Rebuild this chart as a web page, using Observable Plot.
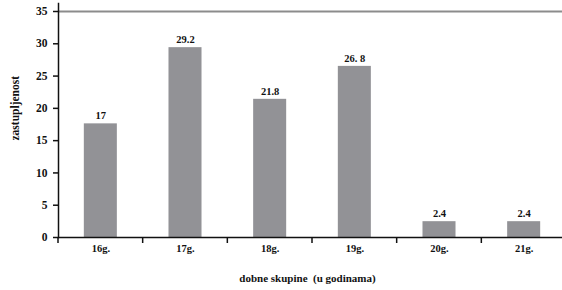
<!DOCTYPE html>
<html>
<head>
<meta charset="utf-8">
<script src="https://cdn.jsdelivr.net/npm/d3@7"></script>
<script src="https://cdn.jsdelivr.net/npm/@observablehq/plot@0.6"></script>
<style>
  html, body { margin: 0; padding: 0; background: #fff; }
  svg text { white-space: pre; }
</style>
</head>
<body>
<div id="chart"></div>
<script>
const categories = ["16g.", "17g.", "18g.", "19g.", "20g.", "21g."];
const values = [17.6, 29.4, 21.4, 26.5, 2.45, 2.45];
const valueLabels = ["17", "29.2", "21.8", "26. 8", "2.4", "2.4"];
const yTicks = [0, 5, 10, 15, 20, 25, 30, 35];
const xTitle = "dobne skupine  (u godinama)";
const yTitle = "zastupljenost";

const data = categories.map((c, i) => ({cat: c, value: values[i], label: valueLabels[i]}));
const FF = "Liberation Serif";

const svg = Plot.plot({
  width: 562,
  height: 290,
  marginTop: 3,
  marginBottom: 53,
  marginLeft: 58,
  marginRight: 0,
  style: {fontFamily: FF, fontWeight: "bold", fontSize: "10px", background: "#fff", overflow: "visible"},
  x: {domain: categories, range: [58, 566], paddingInner: 0.61, paddingOuter: 0.305, round: false},
  y: {domain: [0, 35], range: [237, 11]},
  marks: [
    Plot.ruleY([35], {stroke: "#8c8c8c", strokeWidth: 2}),
    Plot.barY(data, {x: "cat", y: "value", fill: "#929296"}),
    Plot.text(data, {x: "cat", y: "value", text: "label", dy: -8, lineAnchor: "middle", fontFamily: FF, fontSize: 10.5, fontWeight: "bold", fill: "#111"}),
    Plot.axisY({ticks: yTicks, tickSize: 5, tickPadding: 6, tickFormat: d => String(d), fontFamily: FF, fontSize: 11.5, fontWeight: "bold", label: null, strokeWidth: 1.5, color: "#111"}),
    Plot.axisX({tickSize: 0, tickPadding: 7, fontFamily: FF, fontSize: 10.5, fontWeight: "bold", label: null, color: "#111"}),
    Plot.ruleY([0], {stroke: "#111", strokeWidth: 1.5}),
    Plot.frame({anchor: "left", stroke: "#111", strokeWidth: 1.5}),
    Plot.text([xTitle], {frameAnchor: "bottom", dy: 44, dx: -3, fontFamily: FF, fontSize: 11, fontWeight: "bold", fill: "#111"}),
    Plot.text([yTitle], {frameAnchor: "left", rotate: -90, dx: -43, dy: 20, fontFamily: FF, fontSize: 11.5, fontWeight: "bold", fill: "#111"})
  ]
});

// Category boundary ticks on the x axis, derived from the band scale
const xs = svg.scale("x");
const ys = svg.scale("y");
const [r0, r1] = xs.range;
const step = (r1 - r0) / categories.length;
const y0 = ys.apply(0);
d3.select(svg).append("g")
  .attr("stroke", "#111").attr("stroke-width", 1.5)
  .selectAll("line")
  .data(d3.range(categories.length + 1))
  .join("line")
  .attr("x1", i => r0 + i * step)
  .attr("x2", i => r0 + i * step)
  .attr("y1", y0)
  .attr("y2", y0 + 6);

document.getElementById("chart").appendChild(svg);
</script>
</body>
</html>
